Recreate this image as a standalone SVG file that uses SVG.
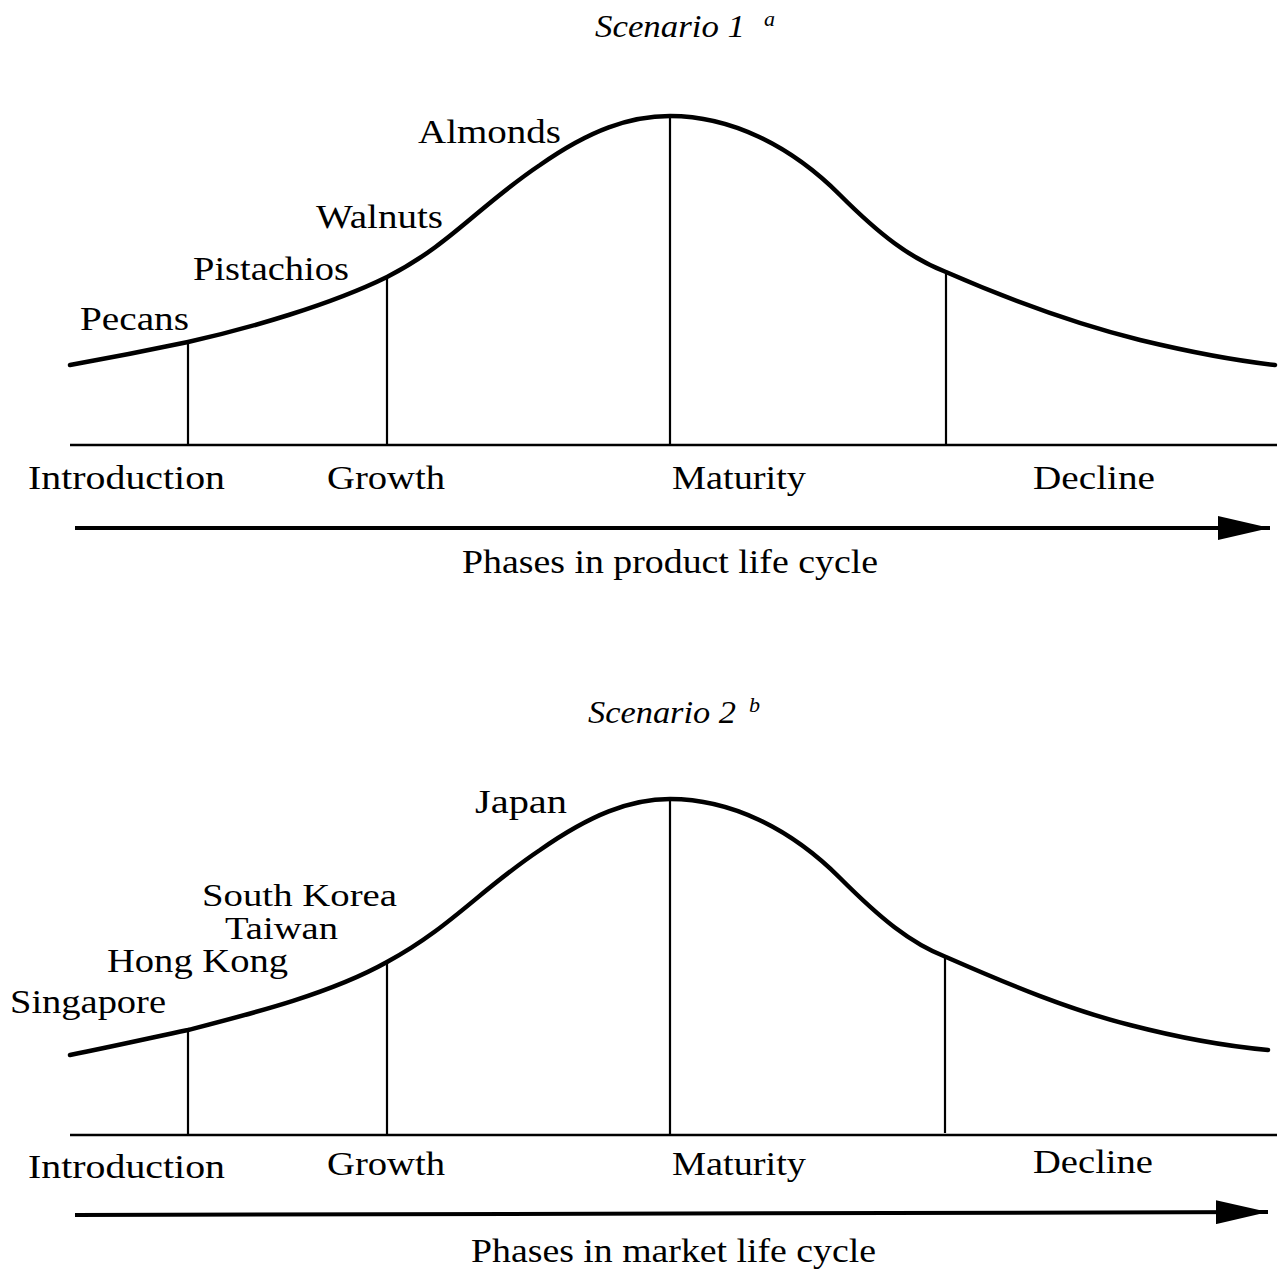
<svg xmlns="http://www.w3.org/2000/svg" width="1281" height="1273" viewBox="0 0 1281 1273">
<style>
.t{font-family:"Liberation Serif","Times New Roman",serif;font-size:34px;fill:#000}
.s{font-size:31px}
.ti{font-family:"Liberation Serif","Times New Roman",serif;font-size:32px;font-style:italic;fill:#000}
.sup{font-family:"Liberation Serif","Times New Roman",serif;font-size:22px;font-style:italic;fill:#000}
.curve{fill:none;stroke:#000;stroke-width:4.5;stroke-linecap:round}
.v{stroke:#000;stroke-width:2.2}
.base{stroke:#000;stroke-width:2.5}
.arr{stroke:#000;stroke-width:4}
</style>
<defs>
<marker id="ah" markerWidth="14" markerHeight="6" refX="13" refY="3" orient="auto" markerUnits="strokeWidth">
<polygon points="0,0 13,3 0,6" fill="#000"/>
</marker>
</defs>
<g id="scenario1">
<g id="title1"><text class="ti" x="595" y="37" textLength="150" lengthAdjust="spacingAndGlyphs">Scenario 1</text><text class="sup" x="764" y="26">a</text></g>
<g id="connectors1">
<path class="curve" d="M70,365 C120,356 150,350 188,342 C250,328 330,305 387,277 C450,245 480,205 540,165 C590,130 630,116 670,116 C730,116 790,145 840,195 C880,235 910,258 946,272 C1010,300 1080,325 1140,340 C1190,352 1230,360 1275,365"/>
<line class="base" x1="70" y1="445" x2="1277" y2="445"/>
<line class="v" x1="188" y1="342" x2="188" y2="445"/>
<line class="v" x1="387" y1="277" x2="387" y2="445"/>
<line class="v" x1="670" y1="116" x2="670" y2="445"/>
<line class="v" x1="946" y1="272" x2="946" y2="445"/>
<line class="arr" x1="75" y1="528" x2="1270" y2="528" marker-end="url(#ah)"/>
</g>
<g id="n-pecans"><text class="t" x="80" y="330" textLength="109" lengthAdjust="spacingAndGlyphs">Pecans</text></g>
<g id="n-pistachios"><text class="t" x="193" y="280" textLength="156" lengthAdjust="spacingAndGlyphs">Pistachios</text></g>
<g id="n-walnuts"><text class="t" x="316" y="228" textLength="127" lengthAdjust="spacingAndGlyphs">Walnuts</text></g>
<g id="n-almonds"><text class="t" x="418" y="143" textLength="143" lengthAdjust="spacingAndGlyphs">Almonds</text></g>
<g id="p1-intro"><text class="t" x="28" y="489" textLength="197" lengthAdjust="spacingAndGlyphs">Introduction</text></g>
<g id="p1-growth"><text class="t" x="327" y="489" textLength="118" lengthAdjust="spacingAndGlyphs">Growth</text></g>
<g id="p1-maturity"><text class="t" x="672" y="489" textLength="134" lengthAdjust="spacingAndGlyphs">Maturity</text></g>
<g id="p1-decline"><text class="t" x="1033" y="489" textLength="122" lengthAdjust="spacingAndGlyphs">Decline</text></g>
<g id="axis1"><text class="t" x="462" y="573" textLength="416" lengthAdjust="spacingAndGlyphs">Phases in product life cycle</text></g>
</g>
<g id="scenario2">
<g id="title2"><text class="ti" x="588" y="723" textLength="148" lengthAdjust="spacingAndGlyphs">Scenario 2</text><text class="sup" x="749" y="712">b</text></g>
<g id="connectors2">
<path class="curve" d="M70,1055 C120,1045 150,1038 188,1030 C250,1014 330,994 387,962 C450,928 480,890 540,850 C590,815 630,799 670,799 C730,799 790,828 840,878 C880,918 910,943 946,957 C1010,985 1070,1010 1130,1025 C1180,1038 1225,1046 1268,1050"/>
<line class="base" x1="70" y1="1135" x2="1277" y2="1135"/>
<line class="v" x1="188" y1="1030" x2="188" y2="1135"/>
<line class="v" x1="387" y1="962" x2="387" y2="1135"/>
<line class="v" x1="670" y1="799" x2="670" y2="1135"/>
<line class="v" x1="945" y1="957" x2="945" y2="1133"/>
<line class="arr" x1="75" y1="1215" x2="1268" y2="1212" marker-end="url(#ah)"/>
</g>
<g id="n-singapore"><text class="t" x="10" y="1013" textLength="156" lengthAdjust="spacingAndGlyphs">Singapore</text></g>
<g id="n-hongkong"><text class="t" x="107" y="972" textLength="181" lengthAdjust="spacingAndGlyphs">Hong Kong</text></g>
<g id="n-taiwan"><text class="t s" x="225" y="939" textLength="113" lengthAdjust="spacingAndGlyphs">Taiwan</text></g>
<g id="n-southkorea"><text class="t s" x="202" y="906" textLength="195" lengthAdjust="spacingAndGlyphs">South Korea</text></g>
<g id="n-japan"><text class="t" x="475" y="813" textLength="92" lengthAdjust="spacingAndGlyphs">Japan</text></g>
<g id="p2-intro"><text class="t" x="28" y="1178" textLength="197" lengthAdjust="spacingAndGlyphs">Introduction</text></g>
<g id="p2-growth"><text class="t" x="327" y="1175" textLength="118" lengthAdjust="spacingAndGlyphs">Growth</text></g>
<g id="p2-maturity"><text class="t" x="672" y="1175" textLength="134" lengthAdjust="spacingAndGlyphs">Maturity</text></g>
<g id="p2-decline"><text class="t" x="1033" y="1173" textLength="120" lengthAdjust="spacingAndGlyphs">Decline</text></g>
<g id="axis2"><text class="t" x="471" y="1262" textLength="405" lengthAdjust="spacingAndGlyphs">Phases in market life cycle</text></g>
</g>
</svg>
